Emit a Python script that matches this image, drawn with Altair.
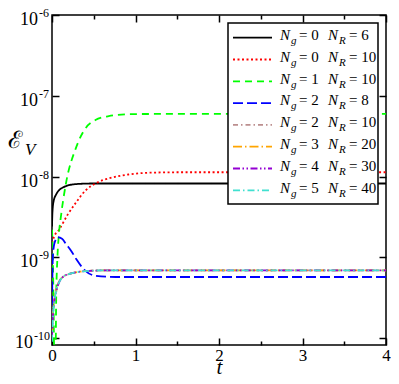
import altair as alt
import pandas as pd

SERIF = "Liberation Serif"

# ---- data -------------------------------------------------------------
T_A = [0, 0.005, 0.02, 0.05, 0.08, 0.13, 0.2, 0.32, 0.5, 1, 2, 3, 4]
V_A = [2.4e-9, 3.6e-9, 5.0e-9, 6.0e-9, 6.7e-9, 7.3e-9, 7.8e-9, 8.1e-9, 8.2e-9, 8.2e-9, 8.2e-9, 8.2e-9, 8.2e-9]

T_B = [0, 0.025, 0.085, 0.19, 0.29, 0.40, 0.52, 0.7, 0.92, 1.24, 1.6, 2, 3, 4]
V_B = [1.5e-9, 1.8e-9, 2.2e-9, 3.4e-9, 4.8e-9, 6.7e-9, 8.2e-9, 9.6e-9, 1.06e-8, 1.12e-8, 1.13e-8, 1.13e-8, 1.13e-8, 1.13e-8]

T_C = [0, 0.01, 0.02, 0.03, 0.04, 0.05, 0.065, 0.08, 0.107, 0.167, 0.286, 0.405, 0.52, 0.68, 0.9, 1.2, 2, 3, 4]
V_C = [2.2e-9, 1.0e-9, 2.0e-10, 3e-11, 3e-11, 3e-10, 1.0e-9, 1.8e-9, 3.2e-9, 8.2e-9, 2.25e-8, 4.0e-8, 5.0e-8, 5.6e-8, 5.9e-8, 5.95e-8, 5.95e-8, 5.95e-8, 5.95e-8]

T_D = [0, 0.01, 0.03, 0.07, 0.12, 0.17, 0.23, 0.29, 0.4, 0.52, 0.76, 1, 2, 3, 4]
V_D = [2.5e-10, 1.0e-9, 1.5e-9, 1.77e-9, 1.7e-9, 1.45e-9, 1.2e-9, 9.5e-10, 6.8e-10, 5.9e-10, 5.7e-10, 5.7e-10, 5.7e-10, 5.7e-10, 5.7e-10]

T_E = [0, 0.01, 0.03, 0.05, 0.085, 0.13, 0.2, 0.28, 0.37, 0.52, 0.8, 1, 2, 3, 4]
V_E = [1.3e-10, 2.0e-10, 3.2e-10, 3.9e-10, 5.0e-10, 5.7e-10, 6.2e-10, 6.5e-10, 6.7e-10, 6.85e-10, 6.9e-10, 6.9e-10, 6.9e-10, 6.9e-10, 6.9e-10]
V_F = [1.1e-10, 1.9e-10, 3.1e-10, 3.9e-10, 5.0e-10, 5.7e-10, 6.2e-10, 6.5e-10, 6.7e-10, 6.85e-10, 6.9e-10, 6.9e-10, 6.9e-10, 6.9e-10, 6.9e-10]
V_G = [1.0e-10, 1.8e-10, 3.0e-10, 3.8e-10, 4.9e-10, 5.7e-10, 6.2e-10, 6.5e-10, 6.7e-10, 6.85e-10, 6.9e-10, 6.9e-10, 6.9e-10, 6.9e-10, 6.9e-10]
V_H = [0.9e-10, 1.7e-10, 2.9e-10, 3.8e-10, 4.9e-10, 5.7e-10, 6.2e-10, 6.5e-10, 6.7e-10, 6.85e-10, 6.9e-10, 6.9e-10, 6.9e-10, 6.9e-10, 6.9e-10]

NG = [0, 0, 1, 2, 2, 3, 4, 5]
NR = [6, 10, 10, 8, 10, 20, 30, 40]
TS = [T_A, T_B, T_C, T_D, T_E, T_E, T_E, T_E]
VS = [V_A, V_B, V_C, V_D, V_E, V_F, V_G, V_H]
COLORS = ["#000000", "#ff0000", "#00ff00", "#0000ff", "#bc8f8f", "#ffa500", "#9400d3", "#40e0d0"]
DASHES = [[1, 0], [2, 2.5], [7, 5], [10, 4], [5, 3, 1.5, 3], [9, 3, 1.5, 3],
          [7, 2.5, 1.5, 2.5, 1.5, 2.5], [7, 3, 1.5, 3]]

X_MAJOR = [0, 1, 2, 3, 4]
X_MINOR = [0.5, 1.5, 2.5, 3.5]
Y_MAJOR = [1e-6, 1e-7, 1e-8, 1e-9, 1e-10]
Y_EXP = ["-6", "-7", "-8", "-9", "-10"]

# ---- scales --------------------------------------------------------------
xs = alt.Scale(domain=[0, 4], nice=False, zero=False)
ys = alt.Scale(type="log", domain=[8.2e-11, 1e-6], nice=False)

def tick_axis(orient, values, size, labels=False, **kw):
    return alt.Axis(orient=orient, values=values, tickSize=size, offset=-size,
                    domain=False, grid=False, labels=labels, tickColor="black",
                    tickWidth=1.5, **kw)

layers = []
for i in range(len(NG)):
    df = pd.DataFrame({"t": TS[i], "v": VS[i]})
    if i == 0:
        xa = tick_axis("bottom", X_MAJOR, 7, labels=True, format="d", labelFont=SERIF,
                       labelFontSize=17, labelColor="black", labelPadding=2,
                       labelFlush=False, title="t", titleFont=SERIF,
                       titleFontStyle="italic", titleFontWeight="normal",
                       titleFontSize=21, titleColor="black",
                       titleBaseline="alphabetic", titleY=35)
        ya = tick_axis("left", Y_MAJOR, 7, title=None)
    else:
        xa = None
        ya = None
    layers.append(
        alt.Chart(df).mark_line(clip=True, color=COLORS[i], strokeDash=DASHES[i],
                                strokeWidth=1.8, interpolate="monotone")
        .encode(x=alt.X("t:Q", scale=xs, axis=xa), y=alt.Y("v:Q", scale=ys, axis=ya))
    )

ax_df = pd.DataFrame({"t": X_MAJOR, "v": Y_MAJOR})
layers.append(
    alt.Chart(ax_df).mark_point(opacity=0).encode(
        x=alt.X("t:Q", scale=xs, axis=tick_axis("top", X_MAJOR, 7, title=None)),
        y=alt.Y("v:Q", scale=ys, axis=tick_axis("right", Y_MAJOR, 7, title=None)),
    )
)
layers.append(
    alt.Chart(ax_df).mark_point(opacity=0).encode(
        x=alt.X("t:Q", scale=xs, axis=tick_axis("bottom", X_MINOR, 4, title=None)),
        y=alt.Y("v:Q", scale=ys, axis=None),
    )
)
layers.append(
    alt.Chart(ax_df).mark_point(opacity=0).encode(
        x=alt.X("t:Q", scale=xs, axis=tick_axis("top", X_MINOR, 4, title=None)),
        y=alt.Y("v:Q", scale=ys, axis=None),
    )
)

# y tick labels 10^n (two-digit exponent set further left)
ylab = pd.DataFrame({"v": Y_MAJOR, "e": Y_EXP, "b": ["10"] * len(Y_MAJOR)})
for sel, xb in (("datum.e != '-10'", -14), ("datum.e == '-10'", -19)):
    layers.append(
        alt.Chart(ylab).transform_filter(sel)
        .mark_text(align="right", baseline="alphabetic", dy=10, font=SERIF,
                   fontSize=18, color="black")
        .encode(y=alt.Y("v:Q", scale=ys, axis=None), x=alt.value(xb), text="b:N")
    )
    layers.append(
        alt.Chart(ylab).transform_filter(sel)
        .mark_text(align="left", baseline="alphabetic", dy=2, font=SERIF,
                   fontSize=12, color="black")
        .encode(y=alt.Y("v:Q", scale=ys, axis=None), x=alt.value(xb + 1), text="e:N")
    )

# y title
one = pd.DataFrame({"a": [0]})
layers.append(
    alt.Chart(one).mark_text(align="left", baseline="alphabetic", font="DejaVu Serif",
                             fontSize=24, color="black", text="\u2130")
    .encode(x=alt.value(-44), y=alt.value(133))
)
layers.append(
    alt.Chart(one).mark_text(align="left", baseline="alphabetic", font=SERIF,
                             fontSize=17, fontStyle="italic", color="black", text="V")
    .encode(x=alt.value(-27), y=alt.value(140))
)

# legend box
layers.append(
    alt.Chart(one).mark_rect(fill="white", stroke="black", strokeWidth=1.5)
    .encode(x=alt.value(176), x2=alt.value(326), y=alt.value(8), y2=alt.value(189))
)
for i in range(len(NG)):
    layers.append(
        alt.Chart(one).mark_rule(color=COLORS[i], strokeDash=DASHES[i], strokeWidth=1.8)
        .encode(x=alt.value(181), x2=alt.value(220), y=alt.value(22.7 + 21.8 * i))
    )

leg = pd.DataFrame({"i": list(range(len(NG))), "ng": NG, "nr": NR})
base = alt.Chart(leg).transform_calculate(
    ty="25 + 21.8 * datum.i", ts="29 + 21.8 * datum.i",
    sg="'= ' + datum.ng", sr="'= ' + datum.nr")

def ltext(x, field, size, style, yfield, txt=None):
    m = base.mark_text(align="left", baseline="alphabetic", font=SERIF, fontSize=size,
                       fontStyle=style, color="black", **({"text": txt} if txt else {}))
    enc = dict(x=alt.value(x), y=alt.Y(f"{yfield}:Q", scale=None, axis=None))
    if field:
        enc["text"] = alt.Text(f"{field}:N")
    return m.encode(**enc)

layers += [
    ltext(228, None, 15, "italic", "ty", "N"),
    ltext(239, None, 11, "italic", "ts", "g"),
    ltext(247, "sg", 15, "normal", "ty"),
    ltext(276, None, 15, "italic", "ty", "N"),
    ltext(287, None, 11, "italic", "ts", "R"),
    ltext(297, "sr", 15, "normal", "ty"),
]

chart = (
    alt.layer(*layers)
    .resolve_axis(x="independent", y="independent")
    .properties(width=334, height=330,
                padding={"left": 44, "top": 7, "right": 5, "bottom": 31},
                autosize=alt.AutoSizeParams(type="none"),
                background="white")
    .configure_view(stroke="black", strokeWidth=1.5)
)

chart.save("out.html", embed_options={"renderer": "svg", "actions": False})
